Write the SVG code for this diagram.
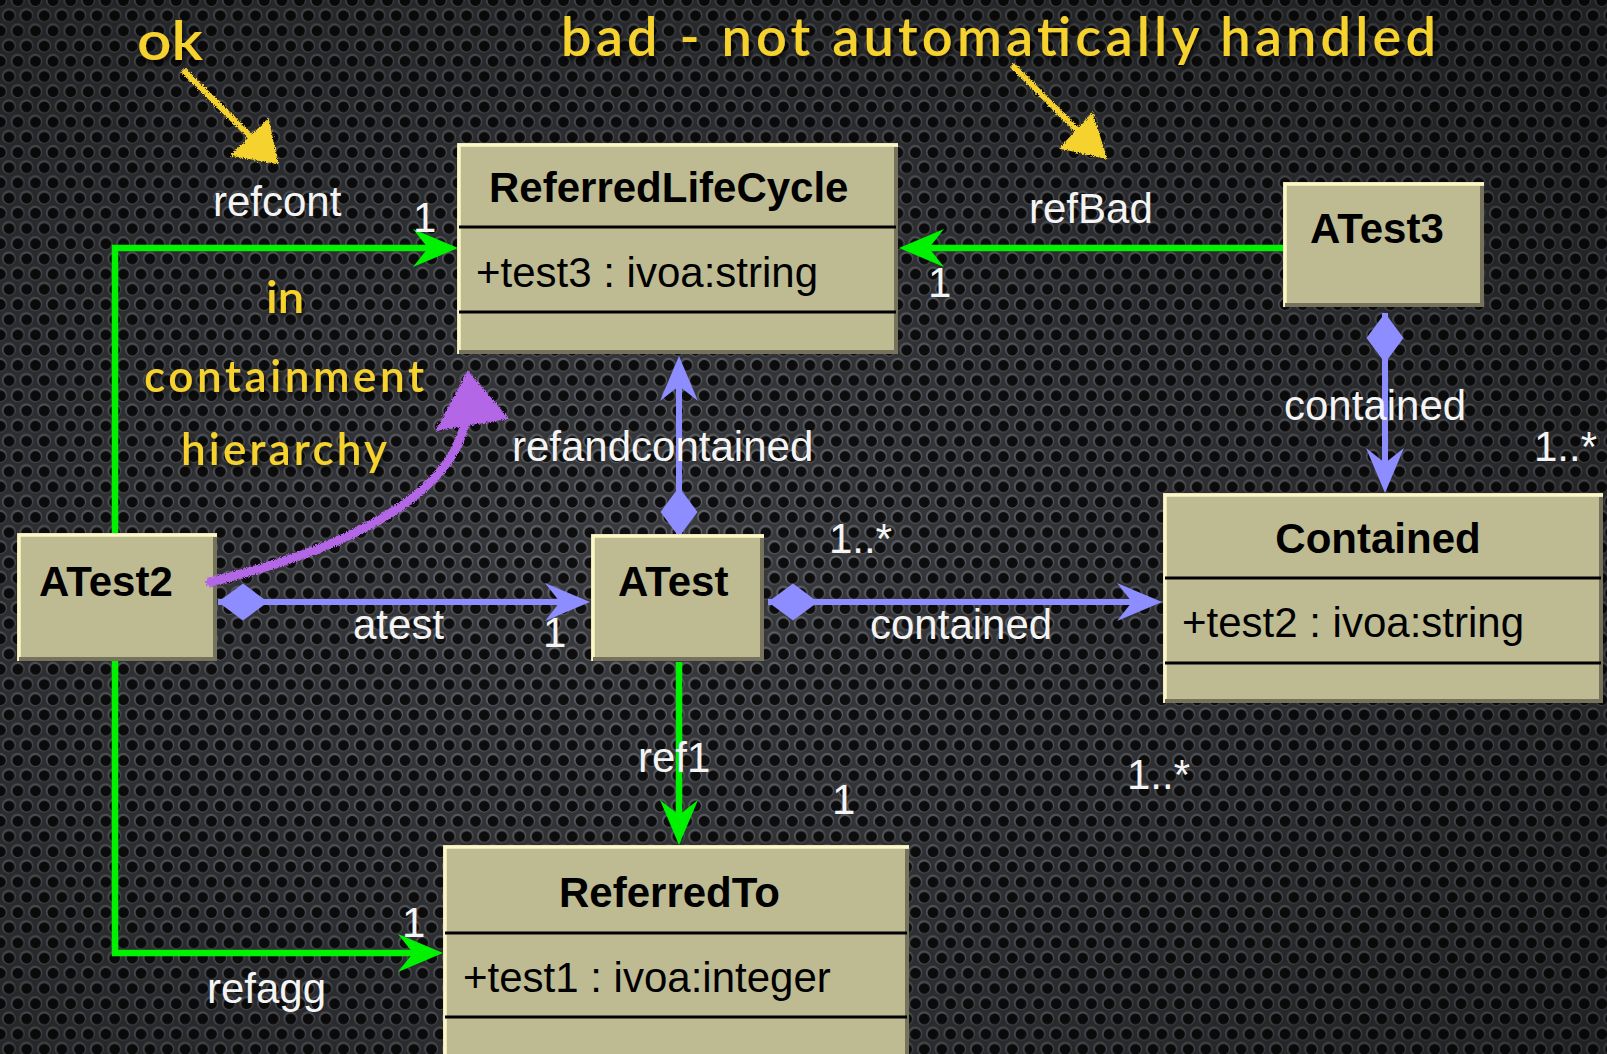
<svg xmlns="http://www.w3.org/2000/svg" width="1607" height="1054" viewBox="0 0 1607 1054">
<style>
.box{fill:#bebb93}
.hl{fill:none;stroke:#fcf7c6;stroke-width:3.5}
.sh{fill:none;stroke:#76735d;stroke-width:4}
.div{stroke:#000;stroke-width:3.2}
.title{font-family:"Liberation Sans",Arial,sans-serif;font-size:42px;font-weight:bold;fill:#000}
.attr{font-family:"Liberation Sans",Arial,sans-serif;font-size:42px;fill:#000}
.lbl{font-family:"Liberation Sans",Arial,sans-serif;font-size:42px;fill:#f4f4f4}
.note{font-family:Lato,"DejaVu Sans",sans-serif;font-weight:600;fill:#f5d22e;filter:url(#tshadow)}
.g{fill:none;stroke:#00f200;stroke-width:6.5}
.b{fill:none;stroke:#8d8dff;stroke-width:6}
</style>
<defs>
<pattern id="holes" width="17.6" height="30.4" patternUnits="userSpaceOnUse">
<rect width="17.6" height="30.4" fill="#393b3f"/>
<g fill="#64676c">
<circle cx="0" cy="0" r="7"/><circle cx="17.6" cy="0" r="7"/><circle cx="0" cy="30.4" r="7"/><circle cx="17.6" cy="30.4" r="7"/><circle cx="8.8" cy="15.2" r="7"/>
</g>
<g fill="#0e0e0f">
<circle cx="0.3" cy="0.6" r="5.5"/><circle cx="17.9" cy="0.6" r="5.5"/><circle cx="0.3" cy="31" r="5.5"/><circle cx="17.9" cy="31" r="5.5"/><circle cx="9.1" cy="15.8" r="5.5"/>
</g>
</pattern>
<radialGradient id="vig" cx="40%" cy="55%" r="75%">
<stop offset="0" stop-color="#000" stop-opacity="0"/>
<stop offset="1" stop-color="#000" stop-opacity="0.45"/>
</radialGradient>
<filter id="chalk" x="-20%" y="-20%" width="140%" height="140%">
<feTurbulence type="fractalNoise" baseFrequency="0.9" numOctaves="2" seed="4" result="n"/>
<feDisplacementMap in="SourceGraphic" in2="n" scale="5" xChannelSelector="R" yChannelSelector="G"/>
</filter>
<filter id="tshadow" x="-10%" y="-30%" width="120%" height="160%">
<feDropShadow dx="2" dy="4" stdDeviation="2.5" flood-color="#000" flood-opacity="0.75"/>
</filter>
<marker id="arrG" markerUnits="userSpaceOnUse" viewBox="-48 -22 50 44" markerWidth="50" markerHeight="44" refX="-30" refY="0" orient="auto" overflow="visible">
<path d="M0,0 L-45,-19 Q-34,-5 -30,0 Q-34,5 -45,19 Z" fill="#00f200"/>
</marker>
<marker id="arrB" markerUnits="userSpaceOnUse" viewBox="-48 -22 50 44" markerWidth="50" markerHeight="44" refX="-30" refY="0" orient="auto" overflow="visible">
<path d="M0,0 L-45,-19 Q-34,-5 -30,0 Q-34,5 -45,19 Z" fill="#8d8dff"/>
</marker>
<marker id="dia" markerUnits="userSpaceOnUse" viewBox="-2 -20 54 40" markerWidth="54" markerHeight="40" refX="0" refY="0" orient="auto" overflow="visible">
<path d="M0,0 L25,-18.5 L50,0 L25,18.5 Z" fill="#8d8dff"/>
</marker>
</defs>

<rect width="1607" height="1054" fill="url(#holes)"/>
<rect width="1607" height="1054" fill="url(#vig)"/>

<g id="connectors">
<path id="c-refcont" class="g" d="M115,534 V248 H428" marker-end="url(#arrG)"/>
<path id="c-refBad" class="g" d="M1283,248 H929" marker-end="url(#arrG)"/>
<path id="c-refagg" class="g" d="M115,661 V953 H413" marker-end="url(#arrG)"/>
<path id="c-ref1" class="g" d="M679,662 V815" marker-end="url(#arrG)"/>
<path id="c-refandcontained" class="b" d="M679,537 V386" marker-start="url(#dia)" marker-end="url(#arrB)"/>
<path id="c-atest" class="b" d="M218,602 H560" marker-start="url(#dia)" marker-end="url(#arrB)"/>
<path id="c-contained1" class="b" d="M768,602 H1132" marker-start="url(#dia)" marker-end="url(#arrB)"/>
<path id="c-contained2" class="b" d="M1385,313 V463" marker-start="url(#dia)" marker-end="url(#arrB)"/>
<text class="lbl" x="213" y="216">refcont</text>
<text class="lbl" x="413" y="232">1</text>
<text class="lbl" x="1029" y="223">refBad</text>
<text class="lbl" x="928" y="297">1</text>
<text class="lbl" x="512" y="461">refandcontained</text>
<text class="lbl" x="353" y="639">atest</text>
<text class="lbl" x="543" y="647">1</text>
<text class="lbl" x="870" y="639">contained</text>
<text class="lbl" x="829" y="553">1..*</text>
<text class="lbl" x="1284" y="420">contained</text>
<text class="lbl" x="1534" y="461">1..*</text>
<text class="lbl" x="638" y="772">ref1</text>
<text class="lbl" x="832" y="814">1</text>
<text class="lbl" x="1127" y="789">1..*</text>
<text class="lbl" x="402" y="937">1</text>
<text class="lbl" x="207" y="1003">refagg</text>
</g>

<g id="ReferredLifeCycle">
<rect class="box" x="457" y="143" width="441" height="211"/>
<path class="hl" d="M459,354 V145 H898"/>
<path class="sh" d="M896,147 V352 H459"/>
<line class="div" x1="459" y1="227" x2="896" y2="227"/>
<line class="div" x1="459" y1="312" x2="896" y2="312"/>
<text class="title" x="489" y="202">ReferredLifeCycle</text>
<text class="attr" x="476" y="287">+test3 : ivoa:string</text>
</g>

<g id="ATest2">
<rect class="box" x="17" y="533" width="200" height="128"/>
<path class="hl" d="M19,661 V535 H217"/>
<path class="sh" d="M215,537 V659 H19"/>
<text class="title" x="39" y="596">ATest2</text>
</g>

<g id="ATest">
<rect class="box" x="591" y="534" width="173" height="127"/>
<path class="hl" d="M593,661 V536 H764"/>
<path class="sh" d="M762,538 V659 H593"/>
<text class="title" x="618" y="596">ATest</text>
</g>

<g id="ATest3">
<rect class="box" x="1283" y="182" width="201" height="125"/>
<path class="hl" d="M1285,307 V184 H1484"/>
<path class="sh" d="M1482,186 V305 H1285"/>
<text class="title" x="1310" y="243">ATest3</text>
</g>

<g id="Contained">
<rect class="box" x="1163" y="493" width="440" height="210"/>
<path class="hl" d="M1165,703 V495 H1603"/>
<path class="sh" d="M1601,497 V701 H1165"/>
<line class="div" x1="1165" y1="578" x2="1601" y2="578"/>
<line class="div" x1="1165" y1="663" x2="1601" y2="663"/>
<text class="title" x="1378" y="553" text-anchor="middle">Contained</text>
<text class="attr" x="1182" y="637">+test2 : ivoa:string</text>
</g>

<g id="ReferredTo">
<rect class="box" x="443" y="845" width="466" height="215"/>
<path class="hl" d="M445,1060 V847 H909"/>
<path class="sh" d="M907,849 V1060"/>
<line class="div" x1="445" y1="933" x2="907" y2="933"/>
<line class="div" x1="445" y1="1017" x2="907" y2="1017"/>
<text class="title" x="559" y="907">ReferredTo</text>
<text class="attr" x="463" y="992">+test1 : ivoa:integer</text>
</g>

<g id="annotations">
<text class="note" x="137" y="60" font-size="54" textLength="66" lengthAdjust="spacingAndGlyphs">ok</text>
<text class="note" x="561" y="56" font-size="54" textLength="875" lengthAdjust="spacing">bad - not automatically handled</text>
<text class="note" x="266" y="313" font-size="44" textLength="38" lengthAdjust="spacingAndGlyphs">in</text>
<text class="note" x="144" y="392" font-size="44" textLength="280" lengthAdjust="spacing">containment</text>
<text class="note" x="181" y="465" font-size="44" textLength="206" lengthAdjust="spacing">hierarchy</text>
<g filter="url(#chalk)" fill="#f5d22e" stroke="#f5d22e">
<path d="M183,70 L252,138" stroke-width="6" fill="none"/>
<polygon points="268,120 232,155 277,163" stroke-width="2"/>
<path d="M1012,65 L1078,131" stroke-width="6" fill="none"/>
<polygon points="1092,114 1061,148 1106,158" stroke-width="2"/>
</g>
<g filter="url(#chalk)" fill="#b366e6" stroke="#b366e6">
<path d="M210,582 C335,552 445,502 464,427" stroke-width="9" fill="none" stroke-linecap="round"/>
<polygon points="468,372 437,430 507,418" stroke-width="2"/>
</g>
</g>
</svg>
